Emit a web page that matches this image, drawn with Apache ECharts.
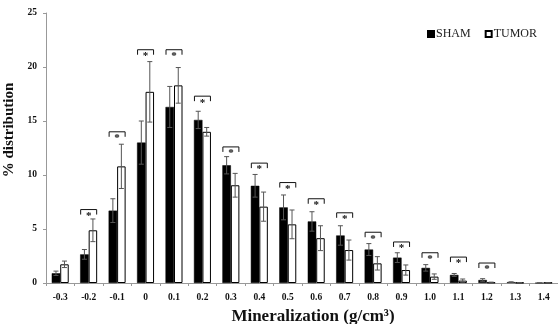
<!DOCTYPE html>
<html>
<head>
<meta charset="utf-8">
<script src="https://cdn.jsdelivr.net/npm/echarts@6/dist/echarts.min.js"></script>
<style>
html,body{margin:0;padding:0;background:#fff;}
#chart{width:558px;height:324px;}
</style>
</head>
<body>
<div id="chart"></div>
<script>
var categories = ['-0.3','-0.2','-0.1','0','0.1','0.2','0.3','0.4','0.5','0.6','0.7','0.8','0.9','1.0','1.1','1.2','1.3','1.4'];
var sham = [0.9, 2.65, 6.7, 13.0, 16.3, 15.1, 10.9, 9.0, 7.0, 5.7, 4.4, 3.1, 2.35, 1.4, 0.75, 0.28, 0.08, 0.0];
var shamErr = [0.2, 0.45, 1.1, 2.0, 1.9, 0.8, 0.8, 1.05, 1.15, 0.9, 0.9, 0.55, 0.45, 0.3, 0.13, 0.12, 0.03, 0];
var tumor = [1.73, 4.88, 10.8, 17.7, 18.3, 14.0, 9.05, 7.07, 5.43, 4.15, 3.05, 1.82, 1.2, 0.59, 0.22, 0.05, 0.03, 0.03];
var tumorErr = [0.3, 1.05, 2.05, 2.8, 1.65, 0.4, 1.1, 1.35, 1.33, 1.15, 0.93, 0.62, 0.47, 0.25, 0.15, 0.03, 0.01, 0.01];
var bracket = [null, 6.8, 14.0, 21.6, 21.6, 17.3, 12.6, 11.1, 9.3, 7.8, 6.5, 4.7, 3.8, 2.8, 2.4, 1.85, null, null];
var yTicks = [0, 5, 10, 15, 20, 25];

var BAR_W = 8.5;
var FONT = '"Liberation Serif","Times New Roman",serif';

function errData(vals, errs) {
  return vals.map(function (v, i) { return [i, v - errs[i], v + errs[i]]; });
}
function errRender(sign) {
  return function (params, api) {
    var i = api.value(0);
    var lo = api.coord([i, api.value(1)]);
    var hi = api.coord([i, api.value(2)]);
    var x = lo[0] + sign * BAR_W / 2;
    var c = 2.5;
    var st = { stroke: '#555', lineWidth: 1 };
    return {
      type: 'group',
      children: [
        { type: 'line', shape: { x1: x, y1: lo[1], x2: x, y2: hi[1] }, style: st },
        { type: 'line', shape: { x1: x - c, y1: hi[1], x2: x + c, y2: hi[1] }, style: st },
        { type: 'line', shape: { x1: x - c, y1: lo[1], x2: x + c, y2: lo[1] }, style: st }
      ]
    };
  };
}

var bracketData = [];
bracket.forEach(function (v, i) { if (v !== null) bracketData.push([i, v]); });

var chart = echarts.init(document.getElementById('chart'));
chart.setOption({
  animation: false,
  backgroundColor: '#fff',
  grid: { left: 46, right: 0, top: 13, bottom: 41, outerBoundsMode: 'none', containLabel: false },
  legend: {
    data: ['SHAM', 'TUMOR'],
    left: 422, top: 23,
    itemWidth: 6, itemHeight: 6, itemGap: 14,
    icon: 'rect',
    textStyle: { fontFamily: FONT, fontSize: 12, color: '#222', padding: [0, 0, 0, -3] }
  },
  xAxis: {
    type: 'category',
    data: categories,
    name: 'Mineralization (g/cm³)',
    nameLocation: 'middle',
    nameGap: 23,
    nameTextStyle: { fontFamily: FONT, fontSize: 17, fontWeight: 'bold', color: '#111', padding: [0, 0, 0, 22] },
    axisLine: { lineStyle: { color: '#999', width: 1 } },
    axisTick: { show: true, alignWithLabel: false, length: 3, lineStyle: { color: '#999' } },
    axisLabel: { fontFamily: FONT, fontSize: 9.5, fontWeight: 'bold', color: '#111', margin: 10, interval: 0 }
  },
  yAxis: {
    type: 'value',
    min: 0, max: 25, interval: 5,
    name: '% distribution',
    nameLocation: 'middle',
    nameGap: 20,
    nameTextStyle: { fontFamily: FONT, fontSize: 15, fontWeight: 'bold', color: '#111', padding: [0, 0, 0, 36] },
    axisLine: { show: true, lineStyle: { color: '#999', width: 1 } },
    axisTick: { show: true, length: 3, lineStyle: { color: '#999' } },
    splitLine: { show: false },
    axisLabel: {
      fontFamily: FONT, fontSize: 9.5, fontWeight: 'bold', color: '#111', margin: 9,
      formatter: function (v) { return yTicks.indexOf(v) >= 0 ? String(v) : ''; }
    }
  },
  series: [
    {
      name: 'SHAM', type: 'bar', data: sham, barWidth: BAR_W, barGap: '0%',
      itemStyle: { color: '#000', borderColor: '#000', borderWidth: 0.5 }
    },
    {
      name: 'TUMOR', type: 'bar', data: tumor, barWidth: BAR_W, barGap: '0%',
      itemStyle: { color: '#fff', borderColor: '#000', borderWidth: 1 }
    },
    {
      type: 'custom', name: 'shamErr', data: errData(sham, shamErr),
      renderItem: errRender(-1), z: 5, silent: true
    },
    {
      type: 'custom', name: 'tumorErr', data: errData(tumor, tumorErr),
      renderItem: errRender(1), z: 5, silent: true
    },
    {
      type: 'custom', name: 'sig', data: bracketData, z: 6, silent: true,
      renderItem: function (params, api) {
        var p = api.coord([api.value(0), api.value(1)]);
        var x = p[0], y = p[1], hw = 8, leg = 5;
        return {
          type: 'group',
          children: [
            { type: 'polyline', shape: { points: [[x - hw, y + leg], [x - hw, y], [x + hw, y], [x + hw, y + leg]] },
              style: { stroke: '#111', lineWidth: 1, fill: null } },
            { type: 'text', style: { text: '*', x: x, y: y + 1, align: 'center', verticalAlign: 'top',
              fontFamily: FONT, fontSize: 11, fontWeight: 'bold', fill: '#111' } }
          ]
        };
      }
    }
  ]
});
</script>
</body>
</html>
